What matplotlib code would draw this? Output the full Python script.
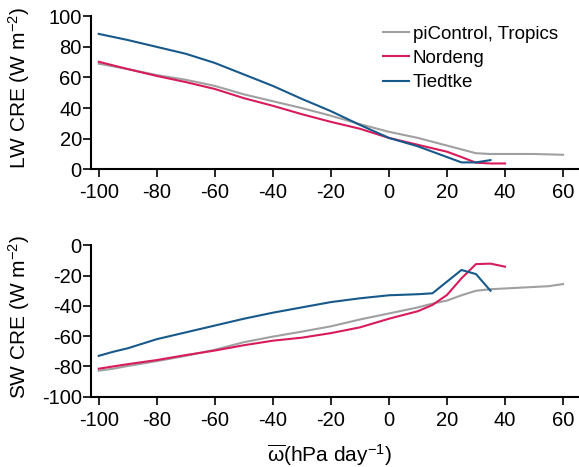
import numpy as np
import matplotlib
matplotlib.use('Agg')
from matplotlib import pyplot as plt

plt.rcParams['font.family'] = ['Liberation Sans', 'DejaVu Sans']
plt.rcParams['mathtext.fontset'] = 'custom'
plt.rcParams['mathtext.rm'] = 'Liberation Sans'
plt.rcParams['mathtext.it'] = 'Liberation Sans'
plt.rcParams['axes.unicode_minus'] = False

# LW CRE (top)
x_ctl_lw = [-100, -90, -80, -70, -60, -50, -40, -30, -20, -10, 0, 10, 20, 25, 30, 35, 40, 50, 60]
ctl_lw = [69, 65.5, 61.6, 58.5, 54.5, 49, 44.5, 40, 35, 29.5, 24.5, 20.5, 15.5, 13, 10.5, 10, 10, 10, 9.5]
x_nor_lw = [-100, -90, -80, -70, -60, -50, -40, -30, -20, -10, 0, 10, 20, 25, 30, 35, 40]
nor_lw = [70.3, 65.5, 61, 57, 52.5, 46.5, 41.5, 36, 31, 26.5, 20.5, 16, 11.5, 8, 4.3, 3.8, 3.8]
x_tie_lw = [-100, -95, -90, -80, -70, -60, -50, -40, -30, -20, -10, 0, 10, 15, 20, 25, 30, 35]
tie_lw = [88.5, 86.5, 84.5, 80, 75.5, 69.5, 62, 54.5, 46, 38, 29, 20.5, 15, 11.5, 8, 4.5, 4.5, 6]

# SW CRE (bottom)
x_ctl_sw = [-100, -95, -90, -80, -70, -60, -50, -40, -30, -20, -10, 0, 10, 15, 20, 25, 30, 35, 40, 45, 50, 55, 60]
ctl_sw = [-82.8, -81.5, -79.7, -76.5, -73, -69, -64, -60.3, -57, -53.5, -49, -45, -41, -38.5, -36.5, -33, -30, -29, -28.5, -28, -27.5, -27, -25.6]
x_nor_sw = [-100, -90, -80, -70, -60, -50, -40, -30, -20, -10, 0, 10, 15, 20, 25, 30, 35, 40]
nor_sw = [-81.5, -78.5, -75.8, -72.5, -69.5, -66, -63, -61, -58, -54.2, -48.5, -43.5, -39.4, -32.8, -21.8, -12.4, -12.1, -14.1]
x_tie_sw = [-100, -95, -90, -80, -70, -60, -50, -40, -30, -20, -10, 0, 10, 15, 20, 25, 30, 35]
tie_sw = [-73, -70.3, -68, -62, -57.5, -53, -48.5, -44.5, -41, -37.5, -35, -33, -32.3, -31.7, -24, -16.3, -19, -30]

labels = ['piControl, Tropics', 'Nordeng', 'Tiedtke']
colors = ['#a0a0a0', '#d81b5b', '#17598a']

fig = plt.figure(figsize=(5.79, 4.67), dpi=100)
ax1 = fig.add_axes([0.158, 0.6375, 0.842, 0.3276])
ax2 = fig.add_axes([0.158, 0.1505, 0.842, 0.3242])

for xs, ys, c, lab in zip([x_ctl_lw, x_nor_lw, x_tie_lw], [ctl_lw, nor_lw, tie_lw], colors, labels):
    ax1.plot(xs, ys, color=c, lw=1.5, label=lab)
for xs, ys, c in zip([x_ctl_sw, x_nor_sw, x_tie_sw], [ctl_sw, nor_sw, tie_sw], colors):
    ax2.plot(xs, ys, color=c, lw=1.5)

for ax in (ax1, ax2):
    ax.set_xlim(-102.5, 65.5)
    ax.set_xticks(np.arange(-100, 61, 20))
    ax.spines['top'].set_visible(False)
    ax.spines['right'].set_visible(False)
    ax.spines['left'].set_linewidth(1.5)
    ax.spines['bottom'].set_linewidth(1.5)
    ax.tick_params(direction='out', length=6, width=1.2, labelsize=14.5)
    ax.tick_params(axis='x', pad=4)
    ax.tick_params(axis='y', pad=1)

ax1.set_ylim(0, 100)
ax1.set_yticks(np.arange(0, 101, 20))
ax2.set_ylim(-100, 0)
ax2.set_yticks(np.arange(-100, 1, 20))

ax1.set_ylabel('LW CRE (W m$^{-2}$)', fontsize=15)
ax2.set_ylabel('SW CRE (W m$^{-2}$)', fontsize=15)
ax1.yaxis.set_label_coords(-0.123, 0.53)
ax2.yaxis.set_label_coords(-0.123, 0.53)
ax2.set_xlabel(r'$\overline{\mathrm{\omega}}$(hPa day$^{-1}$)', fontsize=15)
ax2.xaxis.set_label_coords(0.489, -0.30)

ax1.legend(loc='upper left', bbox_to_anchor=(0.59, 0.965), frameon=False, fontsize=13.5,
           handlelength=1.37, handletextpad=0.23, labelspacing=0.39, borderpad=0.2,
           borderaxespad=0)

fig.savefig('out.png', dpi=100)
